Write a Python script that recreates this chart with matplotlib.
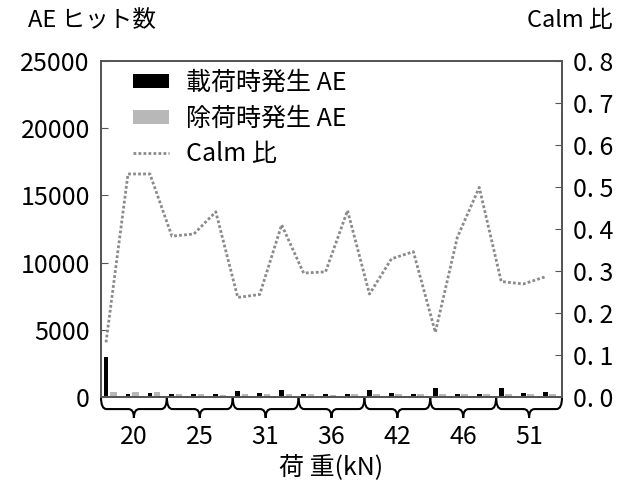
import numpy as np
import matplotlib.pyplot as plt
from matplotlib.path import Path
from matplotlib.patches import PathPatch
import matplotlib.transforms as mtransforms

plt.rcParams['font.family'] = ['Noto Sans CJK JP', 'DejaVu Sans']

# 荷重グループ(各3サイクル)
loads = ['20', '25', '31', '36', '42', '46', '51']
# 載荷時発生AE / 除荷時発生AE (ヒット数)
ae_load = [2950, 200, 300, 250, 200, 250, 450, 300, 500, 250, 250, 200,
           550, 300, 250, 700, 250, 200, 650, 300, 400]
ae_unload = [350, 350, 400, 200, 200, 150, 250, 250, 200, 200, 150, 200,
             250, 200, 200, 250, 200, 200, 250, 200, 250]
# Calm比
calm = [0.130, 0.531, 0.531, 0.383, 0.388, 0.441, 0.237, 0.244, 0.410, 0.295,
        0.298, 0.444, 0.245, 0.329, 0.346, 0.154, 0.380, 0.499, 0.275, 0.269,
        0.286]

x = np.arange(len(calm))
spine_c = '#555555'

fig = plt.figure(figsize=(6.26, 4.84), dpi=100)
ax = fig.add_axes([0.1613, 0.1798, 0.7365, 0.6942])
ax2 = ax.twinx()

b1 = ax.bar(x, ae_load, width=0.22, color='black', label='載荷時発生 AE')
b2 = ax.bar(x + 0.33, ae_unload, width=0.3, color='#b8b8b8', label='除荷時発生 AE')
ln, = ax2.plot(x, calm, color='#8a8a8a', lw=2, ls=(0, (1, 0.8)), label='Calm 比')

ax.set_xlim(-0.23, 20.77)
ax.set_ylim(0, 25000)
ax2.set_ylim(0, 0.8)
ax.set_yticks(np.arange(0, 25001, 5000))
ax2.set_yticks(np.arange(0, 0.81, 0.1))
ax2.set_yticklabels(['0. %d' % i for i in range(9)])
ax.set_xticks([])

for a in (ax, ax2):
    for s in a.spines.values():
        s.set_color(spine_c)
        s.set_linewidth(1.3)
    a.tick_params(axis='y', direction='in', length=5, color=spine_c,
                  labelsize=18, pad=8)

# 荷重グループの括弧
trans = mtransforms.blended_transform_factory(ax.transData, ax.transAxes)
yh, yp = -0.036, -0.062
for g, lab in enumerate(loads):
    x0 = g * 3 - 0.23
    x1 = x0 + 3
    xm = (x0 + x1) / 2
    r = 0.25
    verts = [(x0, 0), (x0, yh), (x0 + r, yh),
             (xm - r, yh), (xm, yh), (xm, yp),
             (xm, yh), (xm + r, yh),
             (x1 - r, yh), (x1, yh), (x1, 0)]
    codes = [Path.MOVETO, Path.CURVE3, Path.CURVE3,
             Path.LINETO, Path.CURVE3, Path.CURVE3,
             Path.CURVE3, Path.CURVE3,
             Path.LINETO, Path.CURVE3, Path.CURVE3]
    ax.add_patch(PathPatch(Path(verts, codes), transform=trans, fill=False,
                           lw=1.5, color='black', clip_on=False))
    ax.text(xm, -0.12, lab, transform=trans, ha='center', va='center',
            fontsize=18)

ax.text(0.5, -0.21, '荷 重(kN)', transform=ax.transAxes, ha='center',
        va='center', fontsize=18)
fig.text(0.045, 0.958, 'AE ヒット数', ha='left', va='center', fontsize=17)
fig.text(0.978, 0.958, 'Calm 比', ha='right', va='center', fontsize=17)

leg = ax.legend(handles=[b1, b2, ln], loc='upper left',
                bbox_to_anchor=(0.02, 1.04), frameon=False, fontsize=18,
                handlelength=1.45, handleheight=0.5, labelspacing=0.38,
                handletextpad=0.7)

fig.savefig('out.png', dpi=100)
